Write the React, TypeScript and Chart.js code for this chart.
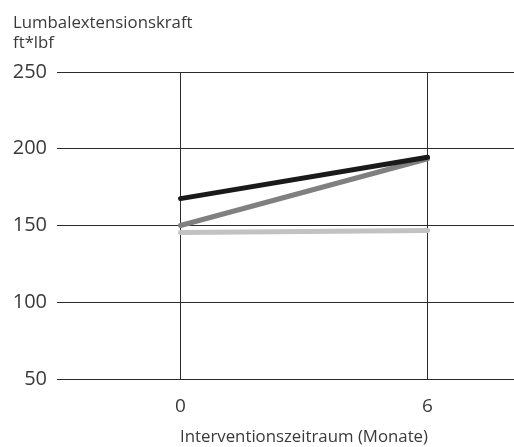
import React, { useEffect, useRef } from "react";
import { Chart, registerables } from "chart.js";

Chart.register(...registerables);

const xValues = [0, 6];
const seriesBlack = [167.5, 194.5];
const seriesDarkGray = [150, 193.5];
const seriesLightGray = [145.5, 146.8];
const yTicks = [50, 100, 150, 200, 250];
const yTitleLines = ["Lumbalextensionskraft", "ft*lbf"];
const xTitle = "Interventionszeitraum (Monate)";

const FONT = "'Open Sans', 'Noto Sans', sans-serif";
const TEXT = "#3a3a3a";

export default function App() {
  const ref = useRef<HTMLCanvasElement | null>(null);
  useEffect(() => {
    document.body.style.margin = "0";
    const canvas = ref.current;
    if (!canvas) return;
    const mk = (vals: number[]) => xValues.map((x, i) => ({ x, y: vals[i] }));
    const textPlugin = {
      id: "texts",
      afterDraw(chart: any) {
        const ctx = chart.ctx;
        const xs = chart.scales.x;
        ctx.save();
        ctx.fillStyle = TEXT;
        ctx.font = `16.8px ${FONT}`;
        ctx.textAlign = "left";
        ctx.textBaseline = "alphabetic";
        ctx.fillText(yTitleLines[0], 13, 28);
        ctx.fillText(yTitleLines[1], 13, 48);
        ctx.textAlign = "center";
        ctx.font = `16.8px ${FONT}`;
        const cx =
          (xs.getPixelForValue(xValues[0]) +
            xs.getPixelForValue(xValues[xValues.length - 1])) /
          2;
        ctx.fillText(xTitle, cx, 442);
        ctx.restore();
      },
    };
    const chart = new Chart(canvas, {
      type: "line",
      data: {
        datasets: [
          { data: mk(seriesBlack), borderColor: "#1a1a1a" },
          { data: mk(seriesDarkGray), borderColor: "#808080" },
          { data: mk(seriesLightGray), borderColor: "#c2c2c2" },
        ].map((d) => ({
          ...d,
          borderWidth: 5,
          borderCapStyle: "round" as const,
          pointRadius: 0,
          fill: false,
          tension: 0,
        })),
      },
      options: {
        responsive: false,
        animation: false,
        layout: { padding: { top: 72, left: 0, right: 0, bottom: 0 } },
        plugins: { legend: { display: false }, tooltip: { enabled: false } },
        scales: {
          x: {
            type: "linear",
            min: -3,
            max: 8.1,
            afterBuildTicks: (s: any) => {
              s.ticks = xValues.map((v) => ({ value: v }));
            },
            afterFit: (s: any) => {
              s.height = 68;
            },
            border: { display: false },
            grid: { color: "#2a2a2a", lineWidth: 1, drawTicks: false },
            ticks: {
              padding: 16,
              color: TEXT,
              font: { family: FONT, size: 19 },
              maxRotation: 0,
            },
          },
          y: {
            min: 50,
            max: 250,
            afterBuildTicks: (s: any) => {
              s.ticks = yTicks.map((v) => ({ value: v }));
            },
            afterFit: (s: any) => {
              s.width = 57;
            },
            border: { display: false },
            grid: { color: "#2a2a2a", lineWidth: 1, drawTicks: false },
            ticks: {
              padding: 10,
              color: TEXT,
              font: { family: FONT, size: 20 },
            },
          },
        },
      },
      plugins: [textPlugin],
    });
    return () => chart.destroy();
  }, []);
  return <canvas ref={ref} width={514} height={447} style={{ display: "block" }} />;
}
